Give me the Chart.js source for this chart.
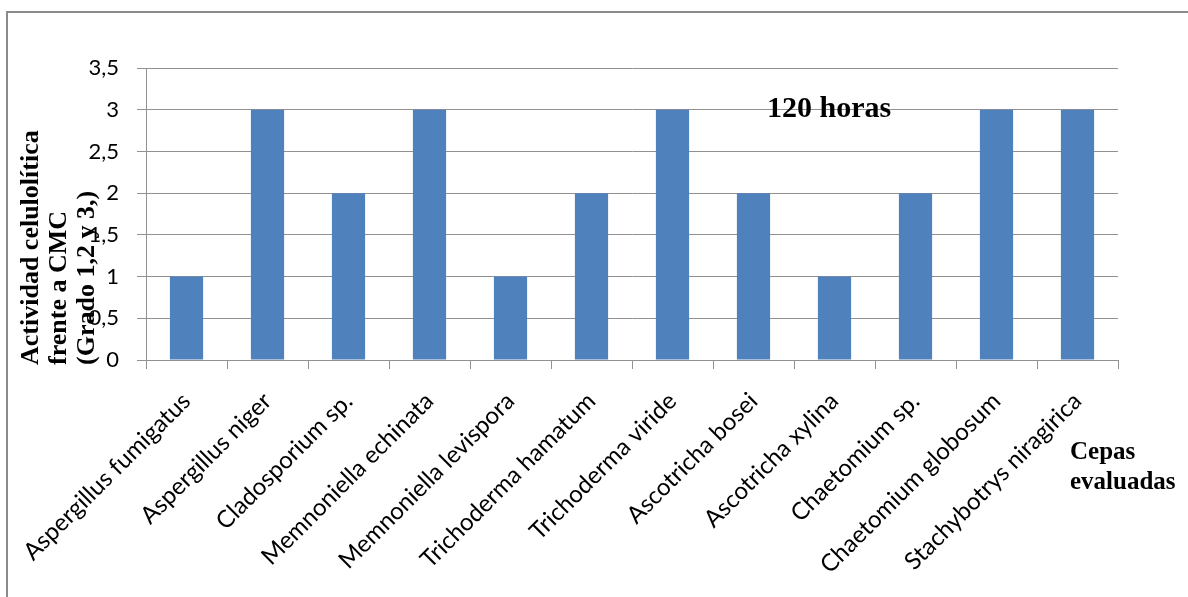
<!DOCTYPE html>
<html lang="es">
<head>
  <meta charset="UTF-8" />
  <title>Actividad celulolítica - 120 horas</title>
  <style>
    html, body {
      margin: 0;
      padding: 0;
      background: #ffffff;
    }
    #wrap {
      width: 1188px;
      height: 597px;
    }
  </style>
</head>
<body>
  <div id="wrap"><canvas id="chart" width="1188" height="597"></canvas></div>

  <script src="https://cdn.jsdelivr.net/npm/chart.js"></script>
  <script>
    const cepas = [
      "Aspergillus fumigatus",
      "Aspergillus niger",
      "Cladosporium sp.",
      "Memnoniella echinata",
      "Memnoniella levispora",
      "Trichoderma hamatum",
      "Trichoderma viride",
      "Ascotricha bosei",
      "Ascotricha xylina",
      "Chaetomium sp.",
      "Chaetomium globosum",
      "Stachybotrys niragirica"
    ];
    const actividad = [1, 3, 2, 3, 1, 2, 3, 2, 1, 2, 3, 3];
    const yTicks = ["0", "0,5", "1", "1,5", "2", "2,5", "3", "3,5"];
    const yTitle = ["Actividad celulolítica", "frente a CMC", "(Grado 1,2 y 3,)"];
    const xTitle = ["Cepas", "evaluadas"];
    const panelTitle = "120 horas";

    const gridGrey = "#919191";

    // titles and the frame are drawn straight onto the canvas after the chart
    const extras = {
      id: "extras",
      afterDraw(chart) {
        const ctx = chart.ctx;
        ctx.save();

        // frame (only left and top edges are inside the page)
        ctx.strokeStyle = "#8a8a8a";
        ctx.lineWidth = 2;
        ctx.beginPath();
        ctx.moveTo(7, 597);
        ctx.lineTo(7, 12);
        ctx.lineTo(1188, 12);
        ctx.stroke();

        ctx.fillStyle = "#000";
        ctx.textBaseline = "alphabetic";
        ctx.textAlign = "left";

        ctx.font = "bold 30px 'Liberation Serif'";
        ctx.fillText(panelTitle, 767, 117);

        ctx.font = "bold 25px 'Liberation Serif'";
        xTitle.forEach((t, i) => ctx.fillText(t, 1070, 459 + i * 30));

        ctx.font = "bold 26px 'Liberation Serif'";
        yTitle.forEach((t, i) => {
          ctx.save();
          ctx.translate(38 + i * 28, 365);
          ctx.rotate(-Math.PI / 2);
          ctx.fillText(t, 0, 0);
          ctx.restore();
        });

        ctx.restore();
      }
    };

    new Chart(document.getElementById("chart"), {
      type: "bar",
      data: {
        labels: cepas,
        datasets: [{
          data: actividad,
          backgroundColor: "#4f81bd",
          categoryPercentage: 1,
          barPercentage: 0.41
        }]
      },
      options: {
        responsive: false,
        animation: false,
        layout: {
          padding: { left: 0, top: 68, right: 70, bottom: 0 }
        },
        scales: {
          x: {
            afterFit: s => { s.height = 237; },
            grid: {
              offset: true,
              drawOnChartArea: false,
              drawTicks: true,
              tickLength: 9,
              color: gridGrey
            },
            border: { display: true, color: gridGrey },
            ticks: {
              maxRotation: 45,
              minRotation: 45,
              padding: 18,
              color: "#000",
              font: { family: "Lato", size: 24 }
            }
          },
          y: {
            min: 0,
            max: 3.5,
            afterFit: s => { s.width = 146; },
            grid: { color: gridGrey, tickLength: 9 },
            border: { display: true, color: gridGrey },
            ticks: {
              stepSize: 0.5,
              padding: 18,
              color: "#000",
              font: { family: "Lato", size: 22 },
              callback: (v, i) => yTicks[i]
            }
          }
        },
        plugins: {
          legend: { display: false },
          tooltip: { enabled: false }
        }
      },
      plugins: [extras]
    });
  </script>
</body>
</html>
